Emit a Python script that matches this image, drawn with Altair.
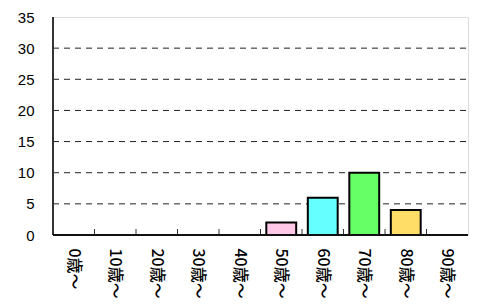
import altair as alt
import pandas as pd

categories = ["0歳～", "10歳～", "20歳～", "30歳～", "40歳～", "50歳～", "60歳～", "70歳～", "80歳～", "90歳～"]
values = [0, 0, 0, 0, 0, 2, 6, 10, 4, 0]
colors = ["#ffffff", "#ffffff", "#ffffff", "#ffffff", "#ffffff", "#ffc8e6", "#66ffff", "#66ff66", "#ffdd66", "#ffffff"]
grid_values = [5, 10, 15, 20, 25, 30]
y_ticks = [0, 5, 10, 15, 20, 25, 30, 35]

df = pd.DataFrame({"cat": categories, "val": values, "col": colors})
bars_df = df[df["val"] > 0]
bounds_df = pd.DataFrame({"b": list(range(1, len(categories)))})

W, H = 415, 218
PI = 0.28
FONT = "Noto Sans CJK JP"

xscale = alt.Scale(domain=categories, paddingInner=PI, paddingOuter=PI / 2)
yscale = alt.Scale(domain=[0, 35])

yaxis = alt.Axis(
    values=y_ticks,
    grid=False,
    ticks=False,
    domain=False,
    labelFont="Liberation Sans",
    labelFontSize=15,
    labelColor="black",
    labelPadding=19,
)

grid = alt.Chart(pd.DataFrame({"g": grid_values})).mark_rule(
    color="#222", strokeDash=[6, 5], strokeWidth=1
).encode(
    y=alt.Y("g:Q", scale=yscale, title=None, axis=yaxis),
    x=alt.value(0),
    x2=alt.value(W),
)

bars = alt.Chart(bars_df).mark_bar(stroke="black", strokeWidth=2).encode(
    x=alt.X(
        "cat:N",
        scale=xscale,
        sort=categories,
        title=None,
        axis=alt.Axis(
            labelAngle=90,
            labelFont=FONT,
            labelFontSize=16,
            labelFontWeight=500,
            labelColor="black",
            labelPadding=13,
            ticks=False,
            domain=False,
            labelAlign="left",
            labelBaseline="middle",
        ),
    ),
    y=alt.Y("val:Q", scale=yscale, title=None, axis=yaxis),
    fill=alt.Fill("col:N", scale=None),
)

ticks = alt.Chart(bounds_df).mark_rule(color="#333", strokeWidth=1).encode(
    x=alt.X("b:Q", scale=alt.Scale(domain=[0, len(categories)], nice=False, zero=False), axis=None),
    y=alt.value(H),
    y2=alt.value(H - 6),
)

lines = alt.Chart(df).mark_rule(color="#333", strokeWidth=2).encode(
    x=alt.value(0), y=alt.value(0), y2=alt.value(H)
)
bottomline = alt.Chart(df).mark_rule(color="#111", strokeWidth=2).encode(
    x=alt.value(0), x2=alt.value(W), y=alt.value(H)
)

main = alt.layer(grid, bars)

chart = alt.layer(main, ticks, lines, bottomline).resolve_scale(x="independent").properties(
    width=W,
    height=H,
    autosize=alt.AutoSizeParams(type="none"),
    padding={"left": 45, "top": 9, "right": 5, "bottom": 63},
).configure_view(stroke="#808080", strokeWidth=2).configure(background="white")

chart.save("out.html", embed_options={"renderer": "svg", "actions": False})
